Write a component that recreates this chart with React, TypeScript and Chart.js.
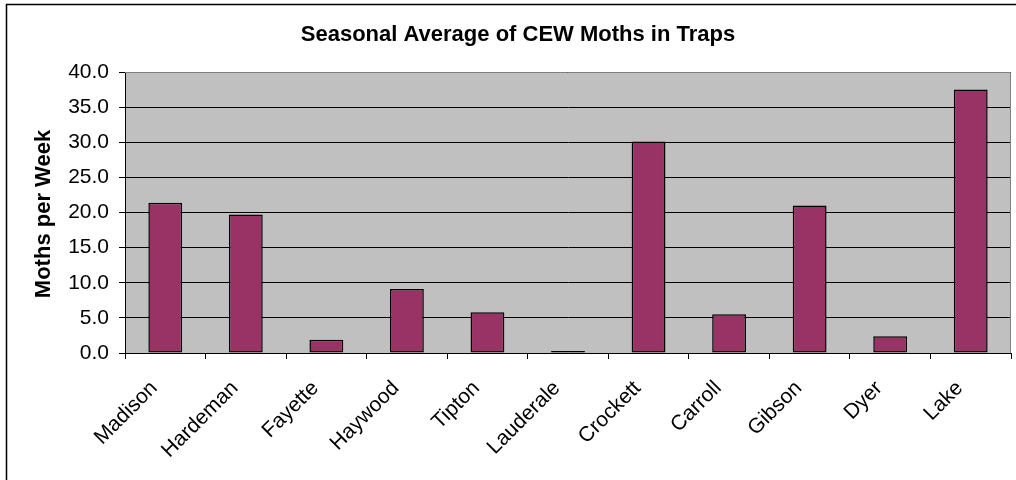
import React, { useEffect, useRef } from "react";
import { Chart, registerables } from "chart.js";

Chart.register(...registerables);

const categories = ["Madison", "Hardeman", "Fayette", "Haywood", "Tipton", "Lauderale", "Crockett", "Carroll", "Gibson", "Dyer", "Lake"];
const mothsPerWeek = [21.4, 19.7, 1.9, 9.1, 5.8, 0.3, 30.1, 5.5, 21.0, 2.4, 37.5];
const chartTitle = "Seasonal Average of CEW Moths in Traps";
const yAxisTitle = "Moths per Week";
const yMin = 0;
const yMax = 40;
const yStep = 5;

const FONT = '"Liberation Sans", Arial, sans-serif';

const decorPlugin = {
  id: "decor",
  beforeDraw(chart: any) {
    const { ctx, chartArea } = chart;
    ctx.save();
    ctx.fillStyle = "#ffffff";
    ctx.fillRect(0, 0, chart.width, chart.height);
    ctx.fillStyle = "#C0C0C0";
    ctx.fillRect(chartArea.left, chartArea.top, chartArea.right - chartArea.left, chartArea.bottom - chartArea.top);
    ctx.restore();
  },
  afterDraw(chart: any) {
    const { ctx, chartArea } = chart;
    ctx.save();
    ctx.strokeStyle = "#808080";
    ctx.lineWidth = 1;
    ctx.beginPath();
    ctx.moveTo(chartArea.left, chartArea.top + 0.5);
    ctx.lineTo(chartArea.right - 0.5, chartArea.top + 0.5);
    ctx.lineTo(chartArea.right - 0.5, chartArea.bottom);
    ctx.stroke();
    ctx.strokeStyle = "#000000";
    ctx.lineWidth = 1.5;
    ctx.strokeRect(6.5, 4.5, 1100, 600);
    ctx.fillStyle = "#000000";
    ctx.font = "bold 22px " + FONT;
    ctx.textAlign = "center";
    ctx.textBaseline = "alphabetic";
    ctx.fillText(chartTitle, 518, 41);
    ctx.translate(49.5, 214);
    ctx.rotate(-Math.PI / 2);
    ctx.font = "bold 22px " + FONT;
    ctx.fillText(yAxisTitle, 0, 0);
    ctx.restore();
  },
};

export default function App() {
  const ref = useRef<HTMLCanvasElement>(null);
  useEffect(() => {
    if (!ref.current) return;
    const chart = new Chart(ref.current, {
      type: "bar",
      data: {
        labels: categories,
        datasets: [
          {
            label: yAxisTitle,
            data: mothsPerWeek,
            backgroundColor: "#993366",
            borderColor: "#000000",
            borderWidth: 1.5,
            borderSkipped: false,
            barPercentage: 0.42,
            categoryPercentage: 1,
          },
        ],
      },
      options: {
        responsive: false,
        animation: false,
        devicePixelRatio: 1,
        layout: { padding: { top: 72, right: 5, bottom: 0, left: 0 } },
        plugins: { legend: { display: false }, title: { display: false }, tooltip: { enabled: false } },
        scales: {
          x: {
            afterFit: (s: any) => { s.height = 127; },
            grid: { display: true, drawOnChartArea: false, drawTicks: true, tickLength: 6, color: "#000000", offset: true },
            border: { display: true, color: "#000000", width: 1 },
            ticks: {
              color: "#000000",
              font: { family: FONT, size: 21 },
              maxRotation: 45,
              minRotation: 45,
              padding: 17,
              labelOffset: -11,
              autoSkip: false,
            },
          },
          y: {
            min: yMin,
            max: yMax,
            afterFit: (s: any) => { s.width = 125; },
            grid: { color: "#000000", lineWidth: 1, drawTicks: true, tickLength: 6 },
            border: { display: true, color: "#000000", width: 1 },
            ticks: {
              stepSize: yStep,
              color: "#000000",
              font: { family: FONT, size: 21 },
              padding: 10,
              callback: (v: any) => Number(v).toFixed(1),
            },
          },
        },
      },
      plugins: [decorPlugin],
    });
    return () => chart.destroy();
  }, []);
  return (
    <canvas
      ref={ref}
      width={1016}
      height={480}
      style={{ position: "fixed", left: 0, top: 0, width: 1016, height: 480, display: "block" }}
    />
  );
}
